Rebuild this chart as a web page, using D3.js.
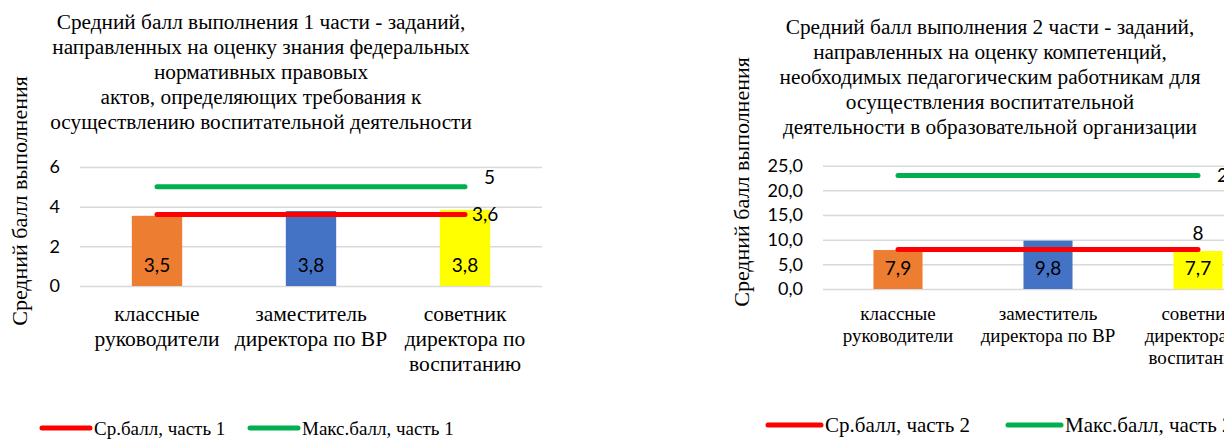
<!DOCTYPE html>
<html>
<head>
<meta charset="utf-8">
<script src="https://cdn.jsdelivr.net/npm/d3@7"></script>
<style>
  body { margin: 0; background: #fff; }
  svg { display: block; }
  .serif { font-family: "Times New Roman", "Liberation Serif", "DejaVu Serif", serif; }
  .sans { font-family: Lato, "Open Sans", sans-serif; }
</style>
</head>
<body>
<svg width="1224" height="439"></svg>
<script>
// categories shared by both charts (split into label lines)
const categoryLines = [
  ['классные', 'руководители'],
  ['заместитель', 'директора по ВР'],
  ['советник', 'директора по', 'воспитанию']
];
const barColors = ['#ED7D31', '#4472C4', '#FFFF00'];
const avgColor = '#FF0000';
const maxColor = '#00B050';

// chart 1
const title1 = [
  'Средний балл выполнения 1 части - заданий,',
  'направленных на оценку знания федеральных',
  'нормативных правовых',
  'актов, определяющих требования к',
  'осуществлению воспитательной деятельности'
];
const values1 = [3.54, 3.78, 3.84];
const avg1 = [3.6, 3.6, 3.6];
const max1 = [5, 5, 5];
const ticks1 = [0, 2, 4, 6];
const legend1 = ['Ср.балл, часть 1', 'Макс.балл, часть 1'];

// chart 2
const title2 = [
  'Средний балл выполнения 2 части - заданий,',
  'направленных на оценку компетенций,',
  'необходимых педагогическим работникам для',
  'осуществления воспитательной',
  'деятельности в образовательной организации'
];
const values2 = [7.9, 9.8, 7.7];
const avg2 = [8, 8, 8];
const max2 = [23, 23, 23];
const ticks2 = [0, 5, 10, 15, 20, 25];
const legend2 = ['Ср.балл, часть 2', 'Макс.балл, часть 2'];

const yTitle = 'Средний балл выполнения';

const ru = d3.formatLocale({decimal: ',', thousands: ' ', grouping: [3], currency: ['', ' ₽']});
const fmt1 = ru.format('.1f');
const fmtShort = d => ru.format('~g')(d);

const svg = d3.select('svg');
svg.append('rect').attr('width', 1224).attr('height', 439).attr('fill', '#fff');

function drawChart(o) {
  const g = svg.append('g');

  const x = d3.scaleBand()
    .domain(d3.range(o.values.length))
    .range([o.left, o.right])
    .padding(0);
  const y = d3.scaleLinear()
    .domain([0, o.ticks[o.ticks.length - 1]])
    .range([o.bottom, o.top]);
  const barW = x.bandwidth() * 0.327;
  const cx = i => x(i) + x.bandwidth() / 2;

  // title
  g.append('text')
    .attr('class', 'serif')
    .style('font-size', o.titleSize + 'px')
    .attr('text-anchor', 'middle')
    .selectAll('tspan')
    .data(o.title)
    .enter().append('tspan')
      .attr('x', o.titleX)
      .attr('y', (d, i) => o.titleY + i * 25)
      .text(d => d);

  // y title
  g.append('text')
    .attr('class', 'serif')
    .attr('transform', `translate(${o.yTitleX},${o.yTitleY}) rotate(-90)`)
    .style('font-size', '22px')
    .attr('text-anchor', 'middle')
    .attr('dy', '0.35em')
    .text(yTitle);

  // grid
  g.append('g')
    .attr('transform', `translate(${o.left},0)`)
    .call(d3.axisLeft(y).tickValues(o.ticks).tickSize(-(o.right - o.left)).tickFormat(o.tickFormat).tickPadding(o.tickPad))
    .call(a => a.select('.domain').remove())
    .call(a => a.selectAll('line').attr('stroke', '#d9d9d9').attr('stroke-width', 1.5))
    .call(a => a.selectAll('text').attr('class', 'sans').attr('font-family', null).style('font-size', '18px').attr('fill', '#000'));

  // bars
  g.selectAll('.bar')
    .data(o.values)
    .enter().append('rect')
      .attr('x', (d, i) => cx(i) - barW / 2)
      .attr('y', d => y(d))
      .attr('width', barW)
      .attr('height', d => y(0) - y(d))
      .attr('fill', (d, i) => barColors[i]);

  g.selectAll('.barLabel')
    .data(o.values)
    .enter().append('text')
      .attr('class', 'sans')
      .attr('x', (d, i) => cx(i))
      .attr('y', y(0) - 21)
      .attr('dy', '0.35em')
      .attr('text-anchor', 'middle')
      .style('font-size', '19px')
      .text(d => fmt1(d));

  // lines
  const line = d3.line().x((d, i) => cx(i)).y(d => y(d));
  [[o.max, maxColor], [o.avg, avgColor]].forEach(([s, c]) => {
    g.append('path')
      .attr('d', line(s))
      .attr('fill', 'none')
      .attr('stroke', c)
      .attr('stroke-width', 5)
      .attr('stroke-linecap', 'round');
  });

  const last = o.values.length - 1;
  g.append('text')
    .attr('class', 'sans')
    .attr('x', cx(last) + o.maxDx)
    .attr('y', y(o.max[last]) + o.maxDy)
    .attr('dy', '0.35em')
    .style('font-size', '19px')
    .text(fmtShort(o.max[last]));
  g.append('text')
    .attr('class', 'sans')
    .attr('x', cx(last) + o.avgDx)
    .attr('y', y(o.avg[last]) + o.avgDy)
    .attr('dy', '0.35em')
    .attr('text-anchor', o.avgAnchor)
    .style('font-size', '19px')
    .text(fmtShort(o.avg[last]));

  // category labels
  g.selectAll('.cat')
    .data(categoryLines)
    .enter().append('text')
      .attr('class', 'serif')
      .style('font-size', o.catSize + 'px')
      .attr('text-anchor', 'middle')
      .selectAll('tspan')
      .data((d, i) => d.map(t => ({t, i})))
      .enter().append('tspan')
        .attr('x', d => cx(d.i))
        .attr('y', (d, j) => o.catY + j * o.catStep)
        .attr('dy', '0.35em')
        .text(d => d.t);

  // legend
  const leg = g.selectAll('.leg')
    .data([[o.legend[0], avgColor], [o.legend[1], maxColor]])
    .enter().append('g')
      .attr('transform', (d, i) => `translate(${o.legendX[i]},${o.legendY})`);
  leg.append('line')
    .attr('x1', 0).attr('x2', o.legendLen)
    .attr('stroke', d => d[1])
    .attr('stroke-width', 5)
    .attr('stroke-linecap', 'round');
  leg.append('text')
    .attr('class', 'serif')
    .attr('x', o.legendLen + 4)
    .attr('dy', '0.35em')
    .style('font-size', o.legendSize + 'px')
    .text(d => d[0]);
}

drawChart({
  title: title1, values: values1, avg: avg1, max: max1, ticks: ticks1, legend: legend1,
  left: 80, right: 542, top: 167, bottom: 286,
  titleX: 261, titleY: 29, titleSize: 21.3,
  yTitleX: 19, yTitleY: 201,
  tickFormat: d3.format('d'), tickPad: 20,
  maxDx: 19, maxDy: -9, avgDx: 7, avgDy: 0, avgAnchor: 'start',
  catSize: 21.5, catY: 313, catStep: 25,
  legendX: [42, 250], legendY: 428, legendSize: 19, legendLen: 48
});

drawChart({
  title: title2, values: values2, avg: avg2, max: max2, ticks: ticks2, legend: legend2,
  left: 823, right: 1273, top: 165.7, bottom: 289,
  titleX: 990, titleY: 34, titleSize: 21.3,
  yTitleX: 741, yTitleY: 182,
  tickFormat: fmt1, tickPad: 20,
  maxDx: 19, maxDy: 0, avgDx: 0, avgDy: -16, avgAnchor: 'middle',
  catSize: 19, catY: 313, catStep: 22,
  legendX: [768, 1008], legendY: 425, legendSize: 21, legendLen: 53
});
</script>
</body>
</html>
